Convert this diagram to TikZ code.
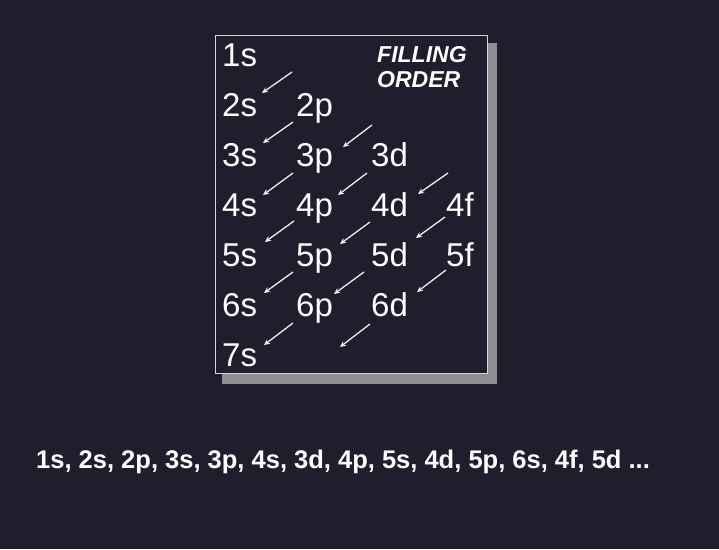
\documentclass[tikz,border=0pt]{standalone}
\usepackage{fontspec}
\setmainfont{Liberation Sans}
\usetikzlibrary{arrows.meta}
\definecolor{bg}{HTML}{1F1E2C}
\definecolor{shadowgray}{HTML}{8E8E92}
\definecolor{framegray}{HTML}{D4D4D4}
\definecolor{arrowwhite}{HTML}{EEEEEE}
\begin{document}
\begin{tikzpicture}[x=1pt,y=-1pt,
  orb/.style={anchor=base west,inner sep=0pt,text=white,font=\fontsize{33}{33}\selectfont},
  ttl/.style={anchor=base west,inner sep=0pt,text=white,font=\fontsize{23}{23}\selectfont\bfseries\itshape},
  seq/.style={anchor=base west,inner sep=0pt,text=white,font=\fontsize{25.5}{25.5}\selectfont\bfseries},
  arr/.style={draw=arrowwhite,line width=1.3pt,-{Stealth[length=6pt,width=5.5pt]}}]
\fill[bg] (0,0) rectangle (719,549);
\useasboundingbox (0,0) rectangle (719,549);
\fill[shadowgray] (222,43) rectangle (497,384);
\draw[framegray,fill=bg,line width=1pt] (215,35) rectangle (487,373);
% titles
\node[ttl] (t1) at (377,62) {FILLING};
\node[ttl] (t2) at (377,87) {ORDER};
% orbitals
\node[orb] (1s) at (222,66) {1s};
\node[orb] (2s) at (222,116) {2s};
\node[orb] (2p) at (296,116) {2p};
\node[orb] (3s) at (222,166) {3s};
\node[orb] (3p) at (296,166) {3p};
\node[orb] (3d) at (371,166) {3d};
\node[orb] (4s) at (222,216) {4s};
\node[orb] (4p) at (296,216) {4p};
\node[orb] (4d) at (371,216) {4d};
\node[orb] (4f) at (446,216) {4f};
\node[orb] (5s) at (222,266) {5s};
\node[orb] (5p) at (296,266) {5p};
\node[orb] (5d) at (371,266) {5d};
\node[orb] (5f) at (446,266) {5f};
\node[orb] (6s) at (222,316) {6s};
\node[orb] (6p) at (296,316) {6p};
\node[orb] (6d) at (371,316) {6d};
\node[orb] (7s) at (222,366) {7s};
% arrows
\draw[arr] (292,72) -- (262,93);
\draw[arr] (293,122) -- (263,143);
\draw[arr] (372,125) -- (343,147);
\draw[arr] (293,173) -- (263,195);
\draw[arr] (367,173) -- (338,195);
\draw[arr] (448,173) -- (418,194);
\draw[arr] (294,221) -- (265,242);
\draw[arr] (370,222) -- (340,244);
\draw[arr] (445,217) -- (416,238);
\draw[arr] (293,272) -- (264,293);
\draw[arr] (364,272) -- (334,294);
\draw[arr] (446,270) -- (417,292);
\draw[arr] (293,323) -- (264,345);
\draw[arr] (370,324) -- (340,347);
% sequence
\node[seq] (seqtext) at (36,468) {1s, 2s, 2p, 3s, 3p, 4s, 3d, 4p, 5s, 4d, 5p, 6s, 4f, 5d ...};
\end{tikzpicture}
\end{document}
